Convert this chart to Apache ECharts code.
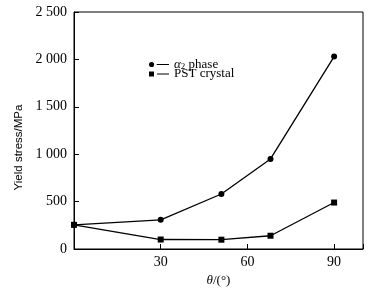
<!DOCTYPE html>
<html><head><meta charset="utf-8">
<script src="https://cdn.jsdelivr.net/npm/echarts@6/dist/echarts.min.js"></script>
<style>html,body{margin:0;padding:0;background:#fff}#c{width:368px;height:295px}</style>
</head><body><div id="c"></div>
<script>
var angles = [0, 30, 51, 68, 90];
var alpha2Phase = [255, 308, 580, 950, 2030];
var pstCrystal = [255, 100, 98, 140, 490];
var yTicks = [0, 500, 1000, 1500, 2000, 2500];
var xTicks = [30, 60, 90];

function pairs(xs, ys){ return xs.map(function(x,i){ return [x, ys[i]]; }); }
var serif = '"Liberation Serif","Times New Roman",serif';
var chart = echarts.init(document.getElementById('c'));
chart.setOption({
  animation:false,
  grid:{left:74,right:5,top:12,bottom:46,show:true,borderColor:'#000',borderWidth:1},
  legend:{
    orient:'vertical', left:144, top:53, itemGap:-4, itemWidth:20, itemHeight:7,
    textStyle:{fontFamily:serif,fontSize:13,color:'#000',
      rich:{a:{fontFamily:serif,fontSize:13,fontStyle:'italic',color:'#000'},
            s:{fontFamily:serif,fontSize:9,color:'#000',padding:[5,0,0,0]},
            t:{fontFamily:serif,fontSize:13,color:'#000'}}},
    formatter:function(n){ return n==='a2' ? '{a|α}{s|2}{t| phase}' : '{t|PST crystal}'; },
    data:[
      {name:'a2', icon:'path://M0.5,4a2.5,2.5 0 1,0 5,0a2.5,2.5 0 1,0 -5,0Z M8,3.4H20V4.6H8Z'},
      {name:'pst', icon:'path://M0,1.5H5V6.5H0Z M8,3.4H20V4.6H8Z'}
    ]
  },
  xAxis:{type:'value',min:0,max:100,interval:30,
    name:'{i|θ}/(°)', nameLocation:'middle', nameGap:25,
    nameTextStyle:{fontFamily:serif,fontSize:13,color:'#000',rich:{i:{fontFamily:serif,fontSize:13,fontStyle:'italic',color:'#000'}}},
    axisLine:{lineStyle:{color:'#000',width:1}},
    axisTick:{inside:true,length:5,lineStyle:{color:'#000'}},
    splitLine:{show:false},
    axisLabel:{fontFamily:serif,fontSize:14,color:'#000',margin:6,
      formatter:function(v){ return xTicks.indexOf(v)>=0 ? String(v) : ''; }}
  },
  yAxis:{type:'value',min:0,max:2500,interval:500,
    name:'Yield stress/MPa', nameLocation:'middle', nameGap:43,
    nameTextStyle:{fontFamily:'"Liberation Sans",Arial,sans-serif',fontSize:11.5,color:'#000',padding:[0,34,0,0]},
    axisLine:{lineStyle:{color:'#000',width:1}},
    axisTick:{inside:true,length:5,lineStyle:{color:'#000'}},
    splitLine:{show:false},
    axisLabel:{fontFamily:serif,fontSize:14,color:'#000',margin:7,
      formatter:function(v){ return yTicks.indexOf(v)>=0 ? (v>=1000 ? String(v).replace(/(\d)(\d{3})$/,'$1 $2') : String(v)) : ''; }}
  },
  series:[
    {name:'a2',type:'line',data:pairs(angles,alpha2Phase),symbol:'circle',symbolSize:6,
     lineStyle:{color:'#000',width:1.3},itemStyle:{color:'#000'}},
    {name:'pst',type:'line',data:pairs(angles,pstCrystal),symbol:'rect',symbolSize:6,
     lineStyle:{color:'#000',width:1.3},itemStyle:{color:'#000'}}
  ]
});
</script></body></html>
